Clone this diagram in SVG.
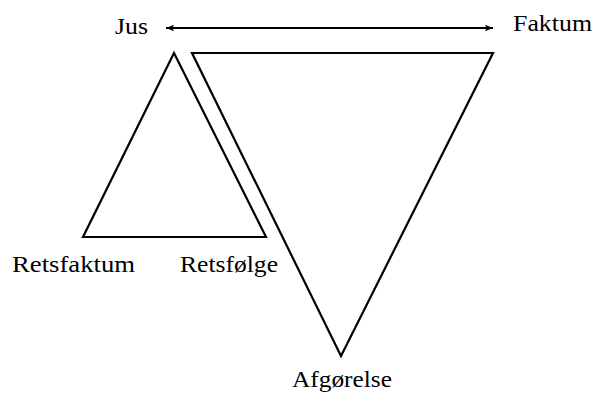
<svg xmlns="http://www.w3.org/2000/svg" width="593" height="398" viewBox="0 0 593 398">
<style>
.lbl{font-family:"Liberation Serif","Times New Roman",serif;font-size:23px;fill:#000}
.shape{fill:none;stroke:#000;stroke-width:2.2;stroke-linejoin:miter}
</style>
<defs>
<marker id="ah" viewBox="0 0 10 10" refX="10" refY="5" markerWidth="12" markerHeight="8" markerUnits="userSpaceOnUse" orient="auto-start-reverse">
<path d="M0,1 L10,5 L0,9 L2,5 Z" fill="#000"/>
</marker>
</defs>
<rect width="593" height="398" fill="#fff"/>
<g id="connectors">
<line x1="166" y1="28" x2="493" y2="28" stroke="#000" stroke-width="2" marker-start="url(#ah)" marker-end="url(#ah)"/>
</g>
<g id="small-triangle">
<polygon class="shape" points="174,53 266,237 83,237"/>
</g>
<g id="big-triangle">
<polygon class="shape" points="192,53 493,53 341,356"/>
</g>
<g id="jus"><text class="lbl" x="115" y="34" textLength="33" lengthAdjust="spacingAndGlyphs">Jus</text></g>
<g id="faktum"><text class="lbl" x="513" y="31" textLength="79" lengthAdjust="spacingAndGlyphs">Faktum</text></g>
<g id="retsfaktum"><text class="lbl" x="12" y="272" textLength="123" lengthAdjust="spacingAndGlyphs">Retsfaktum</text></g>
<g id="retsfolge"><text class="lbl" x="180" y="272" textLength="98" lengthAdjust="spacingAndGlyphs">Retsfølge</text></g>
<g id="afgorelse"><text class="lbl" x="292" y="387" textLength="100" lengthAdjust="spacingAndGlyphs">Afgørelse</text></g>
</svg>
